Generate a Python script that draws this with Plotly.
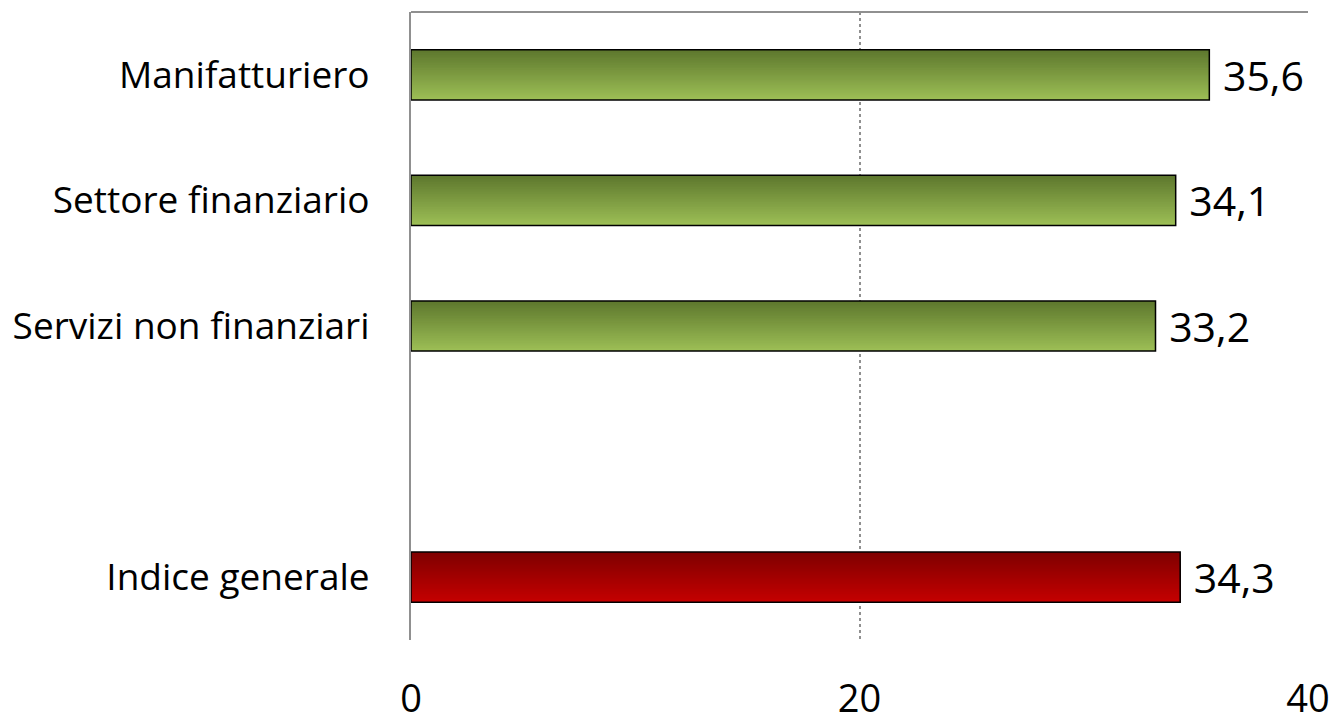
import plotly.graph_objects as go

categories = ["Manifatturiero", "Settore finanziario", "Servizi non finanziari", " ", "Indice generale"]
values = [35.6, 34.1, 33.2, None, 34.3]
groups = ["sector", "sector", "sector", "none", "total"]
x_ticks = [0, 20, 40]

# gradient colours (top -> bottom)
grad = {
    "sector": ((0x5E, 0x78, 0x2E), (0x9C, 0xBE, 0x55)),
    "total": ((0x80, 0x00, 0x00), (0xC4, 0x00, 0x00)),
    "none": ((255, 255, 255), (255, 255, 255)),
}

BAR_W = 0.4
N = 30
FONT = "Open Sans, sans-serif"

def mix(c1, c2, t):
    return "rgb(%d,%d,%d)" % tuple(round(a + (b - a) * t) for a, b in zip(c1, c2))

fig = go.Figure()
step = BAR_W / N
for i in range(N):
    t = i / (N - 1)
    cols = [mix(grad[g][0], grad[g][1], t) for g in groups]
    fig.add_trace(go.Bar(
        x=values, y=categories, orientation="h",
        width=BAR_W - i * step, offset=-BAR_W / 2 + i * step,
        marker=dict(color=cols, line=dict(width=0)),
        hoverinfo="skip", showlegend=False,
    ))

fig.add_trace(go.Bar(
    x=values, y=categories, orientation="h",
    width=BAR_W, offset=-BAR_W / 2,
    marker=dict(color="rgba(0,0,0,0)", line=dict(color="black", width=1.5)),
    texttemplate="\u00a0%{x:.1f}", textposition="outside", constraintext="none",
    cliponaxis=False,
    textfont=dict(family=FONT, size=41, color="black"),
    showlegend=False,
))

fig.update_layout(
    width=1334, height=719,
    margin=dict(l=411, r=26, t=12, b=79, autoexpand=False),
    paper_bgcolor="white", plot_bgcolor="white",
    barmode="overlay", separators=",.",
    font=dict(family=FONT, color="black"),
    xaxis=dict(
        range=[0, 40], tickvals=x_ticks, showgrid=True, griddash="dot",
        gridcolor="#909090", gridwidth=1.5, zeroline=False, showline=False,
        ticks="", ticklabelstandoff=33, tickfont=dict(size=38, color="black"),
        fixedrange=True, automargin=False,
    ),
    yaxis=dict(
        categoryorder="array", categoryarray=categories, autorange="reversed",
        showline=True, linecolor="#909090", linewidth=2, showgrid=False,
        ticks="", ticklabelstandoff=32, tickfont=dict(size=37, color="black"),
        fixedrange=True, automargin=False,
    ),
    shapes=[dict(type="line", xref="paper", yref="paper", x0=0, x1=1, y0=1, y1=1,
                 line=dict(color="#909090", width=2))],
)

fig.write_html(
    "out.html",
    config={"displayModeBar": False},
    post_script="document.body.style.margin='0';document.body.style.overflow='hidden';",
)
